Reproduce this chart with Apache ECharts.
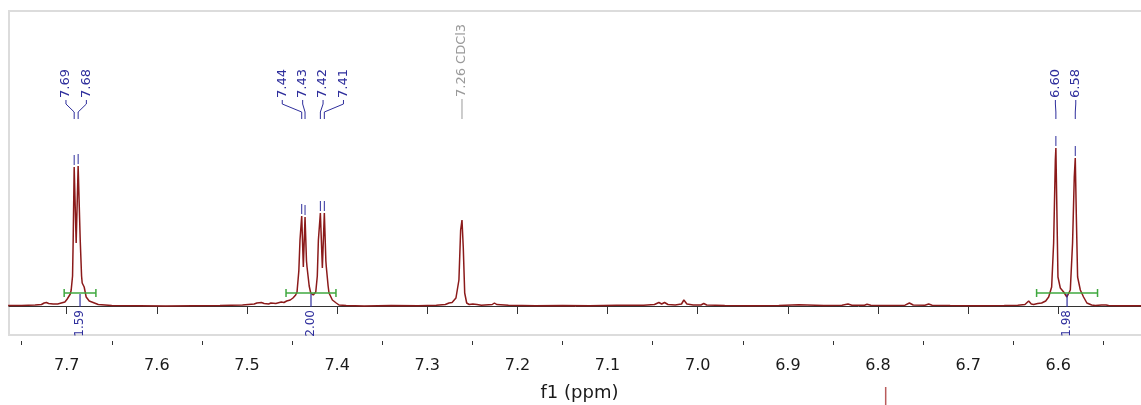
<!DOCTYPE html>
<html><head><meta charset="utf-8">
<script src="https://cdn.jsdelivr.net/npm/echarts@6/dist/echarts.min.js"></script>
<style>html,body{margin:0;padding:0;background:#fff}#c{width:1141px;height:405px}</style>
</head><body><div id="c"></div>
<script>
// ---- spectrum (chemical shift in ppm, intensity in arbitrary units) ----
const shiftPpm = [
 7.765,7.750,7.735,7.728,7.725,7.7225,7.720,7.718,7.715,7.710,7.706,7.702,7.6994,7.696,7.695,7.6935,7.6928,7.6917,7.6895,7.6873,7.685,7.6835,7.6828,7.6806,7.6784,7.675,7.6728,7.665,7.650,7.620,7.590,7.560,7.530,7.505,7.492,7.489,7.487,7.484,7.481,7.476,7.4735,7.468,7.462,7.459,7.456,7.452,7.449,7.446,7.4445,7.4425,7.4412,7.4393,7.4375,7.4356,7.434,7.4334,7.431,7.4293,7.4265,7.4237,7.422,7.4208,7.4186,7.4164,7.4142,7.4125,7.412,7.410,7.409,7.4053,7.401,7.3979,7.39,7.37,7.34,7.31,7.29,7.28,7.2759,7.2725,7.2704,7.2682,7.266,7.2649,7.263,7.2615,7.2601,7.2585,7.2563,7.2535,7.2495,7.2482,7.2449,7.240,7.228,7.2255,7.223,7.21,7.18,7.15,7.12,7.09,7.06,7.048,7.0431,7.040,7.0368,7.033,7.025,7.018,7.0154,7.012,7.005,6.9965,6.9933,6.990,6.97,6.94,6.91,6.888,6.86,6.84,6.8333,6.829,6.815,6.8122,6.808,6.79,6.77,6.7652,6.761,6.748,6.7438,6.740,6.72,6.69,6.66,6.645,6.637,6.6329,6.630,6.6274,6.6229,6.6185,6.614,6.6107,6.6074,6.6052,6.6033,6.6027,6.6016,6.6004,6.5978,6.5941,6.5905,6.5867,6.5842,6.5823,6.5812,6.5800,6.5786,6.5756,6.5720,6.5683,6.5630,6.5590,6.552,6.5498,6.547,6.5442,6.53,6.51,6.498
];
const intensity = [
 0.5,0.5,1,1.5,3,3.5,2.5,3.5,2,2,3,4,7,12,16,30,66,139,63,140,66,30,23,19,9,5,3,1.5,0.5,0.3,0,0.3,0.5,1,2,3,2.5,3.5,2.5,2,3,2.5,4,3.5,5,6,8,11,14,35,66,90,39,89,45,39,20,13,11,14,30,66,93,38,93,45,39,20,13,6,3,1,0.5,0,0.5,0.3,0.8,1.5,3,3.5,3,8,10,26,76,86,59,13,3,1.5,2,2,1.5,0.8,1.5,3,1.5,0.8,0.3,0.5,0.3,0.8,0.8,1.5,3.5,2,3.5,1.5,1,2,6,2,1,1,2.5,1,0.5,0.3,0.5,1.2,0.5,0.8,2,0.8,0.8,1.8,0.8,0.5,0.8,3,1,0.8,2,0.8,0.5,0.3,0.5,0.8,1.5,5,2,1.5,2.5,3,5,9,19,63,146,158,96,29,18,14,9,16,63,129,148,89,29,16,9,3,1,0.5,1,2,1,0.5,0.3,0.3,0.3
];
// ---- peak picking ----
const peakPpm    = [7.6917, 7.6873, 7.4393, 7.4356, 7.4186, 7.4142, 6.6027, 6.5812];
const peakHeight = [139, 140, 90, 89, 93, 93, 158, 148];
const peakLabels = ['7.69','7.68','7.44','7.43','7.42','7.41','6.60','6.58'];
const solventPpm = [7.2615];
const solventHeight = [86];
const solventLabels = ['7.26 CDCl3'];
// ---- integrals ----
const integralFrom   = [7.7028, 7.4567, 6.6241];
const integralTo     = [7.6676, 7.4013, 6.5565];
const integralValues = [1.59, 2.00, 1.98];
// ---- axis ----
const majorTicks = [7.7,7.6,7.5,7.4,7.3,7.2,7.1,7.0,6.9,6.8,6.7,6.6];
const minorTicks = [7.75,7.65,7.55,7.45,7.35,7.25,7.15,7.05,6.95,6.85,6.75,6.65,6.55];
const axisTitle = 'f1 (ppm)';
const cursorPpm = [6.7915];

const X_MIN = 6.4983, X_MAX = 7.764;
const BLUE = '#2e2e9c', GREEN = '#3fa83f', RED = '#8b1a1a', GRAY = '#9a9a9a';
const FONT = '"DejaVu Sans", Verdana, sans-serif';
const INT_LEVEL = 13;

function labelXs(api){
  const xs = peakPpm.map(p => api.coord([p, 0])[0]);
  const order = xs.map((x,i)=>i).sort((a,b)=>xs[a]-xs[b]);
  const gap = 20.4;
  let clusters = order.map(i => ({idx:[i], c:xs[i]}));
  let changed = true;
  while (changed) {
    changed = false;
    for (let k=0;k<clusters.length-1;k++){
      const A = clusters[k], B = clusters[k+1];
      const aR = A.c + (A.idx.length-1)/2*gap;
      const bL = B.c - (B.idx.length-1)/2*gap;
      if (bL - aR < gap) {
        const idx = A.idx.concat(B.idx);
        const c = idx.reduce((s,i)=>s+xs[i],0)/idx.length;
        clusters.splice(k,2,{idx, c}); changed = true; break;
      }
    }
  }
  const out = [];
  clusters.forEach(cl => cl.idx.forEach((i,k) => { out[i] = cl.c + (k-(cl.idx.length-1)/2)*gap; }));
  return out;
}

const chart = echarts.init(document.getElementById('c'), null, {renderer:'canvas'});
chart.setOption({
  animation:false,
  backgroundColor:'#fff',
  grid:[
    {left:9, right:-9, top:11, bottom:70, show:true, borderColor:'#dcdcdc', borderWidth:2, backgroundColor:'transparent', containLabel:false, outerBoundsMode:'none'},
    {left:9, right:-9, top:387, height:18, show:false, containLabel:false, outerBoundsMode:'none'}
  ],
  xAxis:[
    {type:'value', gridIndex:0, min:X_MIN, max:X_MAX, inverse:true, position:'bottom', offset:6,
     axisLine:{show:true, lineStyle:{color:'#333', width:1}},
     axisTick:{show:true, customValues:majorTicks, length:8, lineStyle:{color:'#333'}},
     axisLabel:{show:true, customValues:majorTicks, formatter:v=>v.toFixed(1), fontSize:16, color:'#1a1a1a', margin:17, fontFamily:FONT},
     splitLine:{show:false},
     name:axisTitle, nameLocation:'middle', nameGap:43, nameTextStyle:{fontSize:18, color:'#1a1a1a', fontFamily:FONT}},
    {type:'value', gridIndex:0, min:X_MIN, max:X_MAX, inverse:true, position:'bottom', offset:6,
     axisLine:{show:false},
     axisTick:{show:true, customValues:minorTicks, length:4, lineStyle:{color:'#333'}},
     axisLabel:{show:false}, splitLine:{show:false}},
    {type:'value', gridIndex:1, min:X_MIN, max:X_MAX, inverse:true, show:false}
  ],
  yAxis:[
    {type:'value', gridIndex:0, min:-29, max:295, show:false},
    {type:'value', gridIndex:1, min:0, max:1, show:false}
  ],
  series:[
    {type:'line', xAxisIndex:0, yAxisIndex:0, data:shiftPpm.map((x,i)=>[x,intensity[i]]),
     symbol:'none', lineStyle:{color:RED, width:1.5}, z:3},
    {type:'custom', xAxisIndex:0, yAxisIndex:0, clip:false, z:5,
     data:peakPpm.map((p,i)=>[p,peakHeight[i]]),
     renderItem:function(params, api){
       const i = params.dataIndex;
       const lx = labelXs(api)[i];
       const top = api.coord([peakPpm[i], peakHeight[i]]);
       const px = top[0];
       return {type:'group', children:[
         {type:'polyline', shape:{points:[[lx,100],[lx,104],[px,112],[px,119]]}, style:{stroke:BLUE, lineWidth:1, fill:null}},
         {type:'line', shape:{x1:px, y1:top[1]-2, x2:px, y2:top[1]-12}, style:{stroke:BLUE, lineWidth:1}},
         {type:'text', x:lx, y:98, rotation:Math.PI/2,
          style:{text:peakLabels[i], fill:BLUE, font:'13px '+FONT, align:'left', verticalAlign:'middle'}}
       ]};
     }},
    {type:'custom', xAxisIndex:0, yAxisIndex:0, clip:false, z:5,
     data:solventPpm.map((p,i)=>[p,solventHeight[i]]),
     renderItem:function(params, api){
       const i = params.dataIndex;
       const px = api.coord([solventPpm[i], solventHeight[i]])[0];
       return {type:'group', children:[
         {type:'line', shape:{x1:px, y1:99, x2:px, y2:119}, style:{stroke:GRAY, lineWidth:1}},
         {type:'text', x:px, y:97, rotation:Math.PI/2,
          style:{text:solventLabels[i], fill:GRAY, font:'13px '+FONT, align:'left', verticalAlign:'middle'}}
       ]};
     }},
    {type:'custom', xAxisIndex:0, yAxisIndex:0, clip:false, z:6,
     data:integralFrom.map((f,i)=>[f,integralTo[i]]),
     renderItem:function(params, api){
       const i = params.dataIndex;
       const a = api.coord([integralFrom[i], INT_LEVEL]);
       const b = api.coord([integralTo[i], INT_LEVEL]);
       const y = a[1], cx = (a[0]+b[0])/2;
       return {type:'group', children:[
         {type:'line', shape:{x1:a[0], y1:y, x2:b[0], y2:y}, style:{stroke:GREEN, lineWidth:1.5}},
         {type:'line', shape:{x1:a[0], y1:y-4, x2:a[0], y2:y+4}, style:{stroke:GREEN, lineWidth:1.5}},
         {type:'line', shape:{x1:b[0], y1:y-4, x2:b[0], y2:y+4}, style:{stroke:GREEN, lineWidth:1.5}},
         {type:'line', shape:{x1:cx, y1:y+1, x2:cx, y2:y+14}, style:{stroke:BLUE, lineWidth:1.2}},
         {type:'text', x:cx, y:y+17, rotation:Math.PI/2,
          style:{text:integralValues[i].toFixed(2), fill:BLUE, font:'12px '+FONT, align:'right', verticalAlign:'middle'}}
       ]};
     }},
    {type:'scatter', xAxisIndex:2, yAxisIndex:1, data:cursorPpm.map(p=>[p,0.5]),
     symbol:'rect', symbolSize:[1.5,18], itemStyle:{color:'#a83232'}, silent:true}
  ]
});
</script></body></html>
